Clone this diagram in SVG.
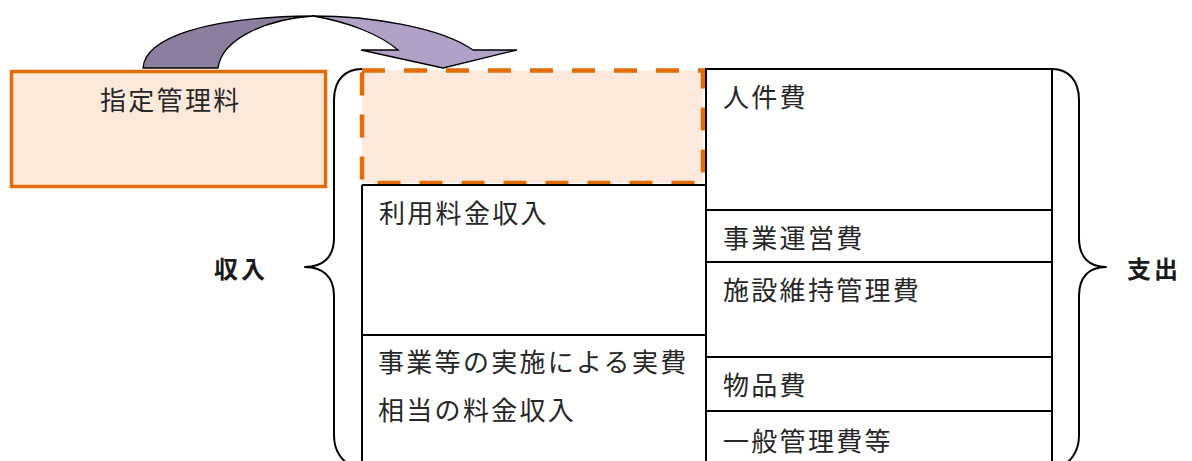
<svg xmlns="http://www.w3.org/2000/svg" width="1192" height="461" viewBox="0 0 1192 461">
<style>
.t{font-family:"Noto Sans CJK JP","Noto Sans CJK SC",sans-serif;font-size:26px;letter-spacing:2.3px;fill:#262626}
.lbl{font-family:"Noto Sans CJK JP","Noto Sans CJK SC",sans-serif;font-size:24px;font-weight:bold;letter-spacing:3px;fill:#1a1a1a}
.ln{stroke:#000;stroke-width:2;fill:none}
.br{stroke:#000;stroke-width:2;fill:none;stroke-linejoin:round}
</style>
<rect width="1192" height="461" fill="#fff"/>
<g id="fee">
<rect x="11.5" y="71.5" width="314" height="115" fill="#FCE9DB" stroke="#E36C09" stroke-width="3.5"/>
<text class="t" x="100" y="110">指定管理料</text>
</g>
<g id="placeholder">
<rect x="362" y="70.5" width="341" height="112.5" fill="#FCE9DB" stroke="#E36C09" stroke-width="4.5" stroke-dasharray="23 19"/>
</g>
<g id="income">
<line class="ln" x1="362" y1="185" x2="706" y2="185"/>
<line class="ln" x1="362" y1="185" x2="362" y2="461"/>
<line class="ln" x1="362" y1="335" x2="706" y2="335"/>
<text class="t" x="379" y="223">利用料金収入</text>
<text class="t" x="378" y="372">事業等の実施による実費</text>
<text class="t" x="378" y="420">相当の料金収入</text>
</g>
<g id="expense">
<line class="ln" x1="706" y1="69" x2="1052" y2="69"/>
<line class="ln" x1="706" y1="68" x2="706" y2="461"/>
<line class="ln" x1="1052" y1="68" x2="1052" y2="461"/>
<line class="ln" x1="706" y1="210" x2="1052" y2="210"/>
<line class="ln" x1="706" y1="262" x2="1052" y2="262"/>
<line class="ln" x1="706" y1="357" x2="1052" y2="357"/>
<line class="ln" x1="706" y1="411" x2="1052" y2="411"/>
<text class="t" x="723" y="107">人件費</text>
<text class="t" x="723" y="248">事業運営費</text>
<text class="t" x="723" y="300">施設維持管理費</text>
<text class="t" x="723" y="395">物品費</text>
<text class="t" x="723" y="451">一般管理費等</text>
</g>
<g id="braces">
<path class="br" d="M362,69 C345,69 334,80 334,100 L334,238 C334,258 322,267 305,267 C322,267 334,276 334,296 L334,435 C334,452 342,461 354,468"/>
<path class="br" d="M1052,69 C1068,69 1079,80 1079,100 L1079,238 C1079,258 1090,267 1106,267 C1090,267 1079,276 1079,296 L1079,435 C1079,452 1071,461 1060,468"/>
<text class="lbl" x="214" y="278">収入</text>
<text class="lbl" x="1127" y="278">支出</text>
</g>
<g id="connectors">
<path d="M143,68 C145,38 205,17 313,16 C268,19 222,38 218,68 Z" fill="#8C7E9E" stroke="#000" stroke-width="1.3" stroke-linejoin="round"/>
<path d="M313,16 C370,16 440,27 473,50 L517,50 L443,68 L361,50 L398,50 C382,36 350,22 313,16 Z" fill="#B1A1C7" stroke="#000" stroke-width="1.3" stroke-linejoin="miter"/>
</g>
</svg>
